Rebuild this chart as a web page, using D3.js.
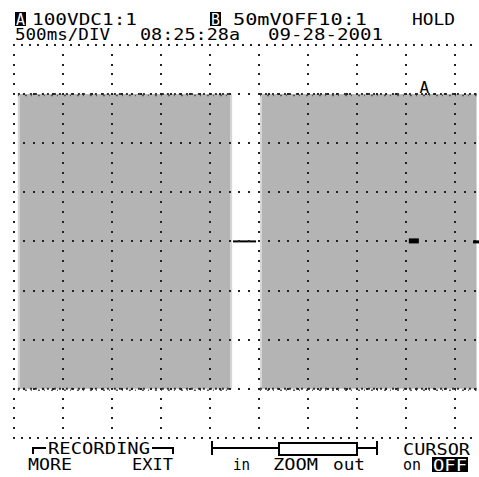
<!DOCTYPE html>
<html>
<head>
<meta charset="utf-8">
<script src="https://cdn.jsdelivr.net/npm/d3@7"></script>
<style>
  body { margin: 0; background: #fff; }
  svg { display: block; }
  text { font-family: "DejaVu Sans Mono", monospace; fill: #000; }
</style>
</head>
<body>
<script>
// ScopeMeter screen copy, recorder mode (HOLD)
// 500 ms/div, channel A at 100 V/div

secPerDiv = 0.5;
voltPerDiv = 100;

blockStart = [0.04, 2.51];   // s
blockEnd   = [2.225, 4.72];  // s
blockMax   = [300, 300];     // V
blockMin   = [-300, -300];   // V

// flat trace in the gap between the blocks
gapT = [2.235, 2.47];
gapV = [0, 0];

// markers
cursorT = 4.19;   // "A" trace label
zeroMarkT = 4.08; // small level block
zeroV = 0;

headTop = ['100VDC1:1', '50mVOFF10:1', 'HOLD'];
headBot = ['500ms/DIV', '08:25:28a', '09-28-2001'];
softKeys = ['MORE', 'EXIT', 'in', 'ZOOM', 'out', 'CURSOR', 'on', 'OFF'];

width = 479, height = 477;
svg = d3.select('body').append('svg')
	.attr('width', width)
	.attr('height', height);

gx0 = 14, divW = 49;
gy0 = 45, divH = 49.1;
nDivX = 10, nDivY = 8;

xScale = d3.scaleLinear()
	.domain([0, nDivX*secPerDiv])
	.range([gx0, gx0 + nDivX*divW]);
yScale = d3.scaleLinear()
	.domain([-nDivY/2*voltPerDiv, nDivY/2*voltPerDiv])
	.range([gy0 + nDivY*divH, gy0]);

blocks = d3.range(blockStart.length).map(i => ({
	t0: blockStart[i], t1: blockEnd[i], hi: blockMax[i], lo: blockMin[i]
}));

// envelope fill
svg.selectAll('rect.env')
	.data(blocks)
	.enter().append('rect')
	.attr('class', 'env')
	.attr('x', d => xScale(d.t0))
	.attr('y', d => yScale(d.hi))
	.attr('width', d => xScale(d.t1) - xScale(d.t0))
	.attr('height', d => yScale(d.lo) - yScale(d.hi))
	.attr('fill', '#b4b4b4');

// lighter rim on the block sides
rims = [];
blocks.forEach(d => { rims.push([d.t0, d]); rims.push([d.t1, d]); });
svg.selectAll('rect.rim')
	.data(rims.slice(0, 3))
	.enter().append('rect')
	.attr('class', 'rim')
	.attr('x', (r, i) => i % 2 ? xScale(r[0]) - 2 : xScale(r[0]))
	.attr('y', r => yScale(r[1].hi))
	.attr('width', 2)
	.attr('height', r => yScale(r[1].lo) - yScale(r[1].hi))
	.attr('fill', '#d6d6d6');

// ragged min/max edges
edges = [];
blocks.forEach(d => {
	edges.push([[d.t0, d.hi], [d.t1, d.hi]]);
	edges.push([[d.t0, d.lo], [d.t1, d.lo]]);
});
line = d3.line()
	.x(d => xScale(d[0]))
	.y(d => yScale(d[1]));
svg.selectAll('path.edge')
	.data(edges)
	.enter().append('path')
	.attr('class', 'edge')
	.attr('d', line)
	.attr('fill', 'none')
	.attr('stroke', '#333')
	.attr('stroke-width', 2)
	.attr('stroke-dasharray', '2,3,2,5');
svg.selectAll('path.edge2')
	.data(edges)
	.enter().append('path')
	.attr('class', 'edge2')
	.attr('d', line)
	.attr('transform', 'translate(0,1.5)')
	.attr('fill', 'none')
	.attr('stroke', '#555')
	.attr('stroke-width', 1.5)
	.attr('stroke-dasharray', '1,6,2,4');

// gap trace
svg.append('path')
	.attr('d', line(gapT.map((t, i) => [t, gapV[i]])))
	.attr('fill', 'none')
	.attr('stroke', '#000')
	.attr('stroke-width', 2);

// graticule dots
dots = [];
for (k = 0; k <= nDivX; k++) {
	x = gx0 + k*divW;
	if (x > width) break;
	for (j = 0; j <= nDivY*5; j++) dots.push([x, gy0 + j*divH/5]);
}
for (j = 0; j <= nDivY; j++) {
	y = gy0 + j*divH;
	step = (j == 0 || j == nDivY) ? divW/6 : divW/5;
	for (x = gx0; x <= width; x += step) dots.push([x, y]);
}
svg.selectAll('rect.dot')
	.data(dots)
	.enter().append('rect')
	.attr('class', 'dot')
	.attr('x', d => Math.round(d[0]) - 1)
	.attr('y', d => Math.round(d[1]) - 1)
	.attr('width', 2)
	.attr('height', 2)
	.attr('fill', '#222');

// level markers
svg.append('rect')
	.attr('x', xScale(zeroMarkT) - 5)
	.attr('y', yScale(zeroV) - 3)
	.attr('width', 10)
	.attr('height', 5)
	.attr('fill', '#000');
svg.append('rect')
	.attr('x', width - 6)
	.attr('y', yScale(zeroV) - 1)
	.attr('width', 6)
	.attr('height', 3)
	.attr('fill', '#000');
svg.append('text')
	.attr('x', xScale(cursorT) - 5)
	.attr('y', yScale(blockMax[1]) - 1)
	.attr('font-size', 16)
	.text('A');

// text helper: fit string into [x0, x1]
function label(s, x0, x1, y, opts) {
	opts = opts || {};
	t = svg.append('text')
		.attr('x', x0)
		.attr('y', y)
		.attr('font-size', opts.size || 16)
		.attr('textLength', x1 - x0)
		.attr('lengthAdjust', 'spacingAndGlyphs')
		.text(s);
	if (opts.fill) t.style('fill', opts.fill);
	return t;
}
function boxed(s, x0, x1, y0, y1, size) {
	svg.append('rect')
		.attr('x', x0).attr('y', y0)
		.attr('width', x1 - x0).attr('height', y1 - y0)
		.attr('fill', '#000');
	label(s, x0 + 1, x1 - 1, y1 - 1, {fill: '#fff', size: size});
}

// header
boxed('A', 15, 26, 12, 26, 15);
label(headTop[0], 32, 137, 25);
boxed('B', 210, 221, 12, 26, 15);
label(headTop[1], 233, 367, 25);
label(headTop[2], 412, 455, 25);
label(headBot[0], 15, 110, 40);
label(headBot[1], 140, 240, 40);
label(headBot[2], 268, 383, 40);

// soft keys
label('RECORDING', 48, 150, 454);
svg.append('path')
	.attr('d', 'M33,454V448H46 M152,448H173V454')
	.attr('fill', 'none')
	.attr('stroke', '#000')
	.attr('stroke-width', 2);
label(softKeys[0], 28, 72, 470);
label(softKeys[1], 132, 173, 470);

svg.append('path')
	.attr('d', 'M212,441V455 M212,448H278 M358,448H377 M377,441V455')
	.attr('fill', 'none')
	.attr('stroke', '#000')
	.attr('stroke-width', 2);
svg.append('rect')
	.attr('x', 279).attr('y', 443)
	.attr('width', 78).attr('height', 12)
	.attr('fill', '#fff')
	.attr('stroke', '#000')
	.attr('stroke-width', 2);
label(softKeys[2], 233, 250, 470);
label(softKeys[3], 273, 318, 470);
label(softKeys[4], 333, 365, 470);

label(softKeys[5], 403, 470, 455);
label(softKeys[6], 403, 421, 470);
boxed(softKeys[7], 432, 468, 457, 472, 15);
</script>
</body>
</html>
